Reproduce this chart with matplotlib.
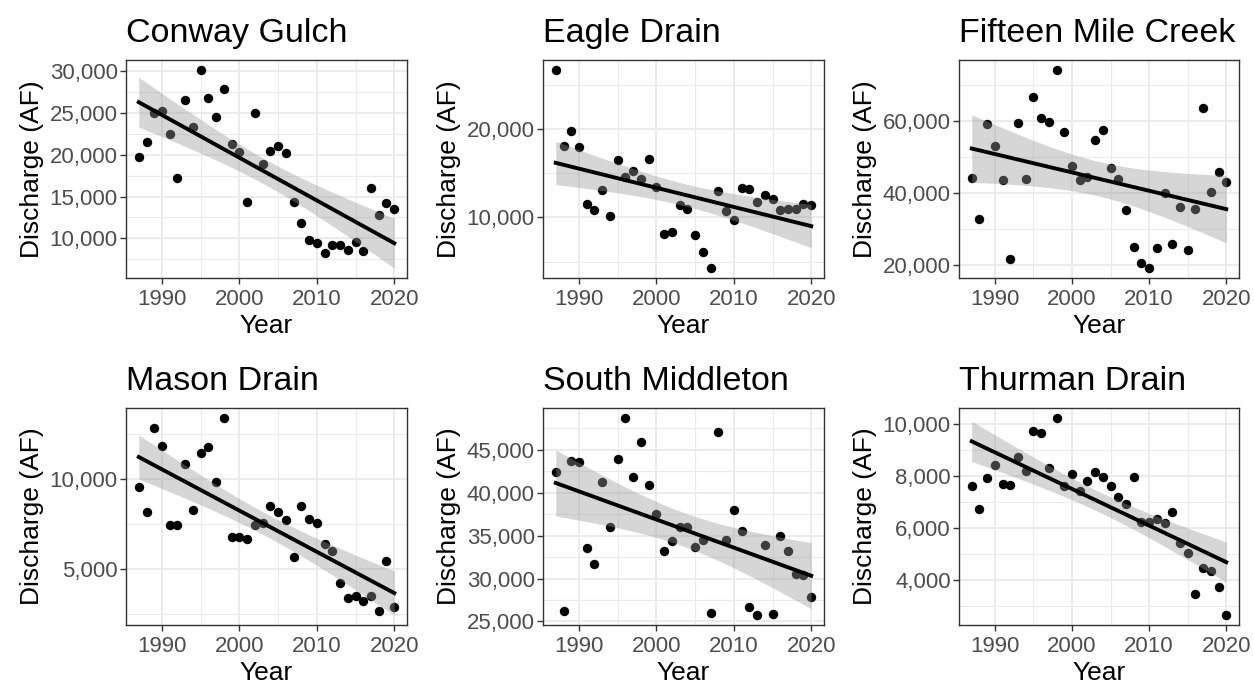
import numpy as np
import matplotlib
matplotlib.use("Agg")
import matplotlib.pyplot as plt
from matplotlib.ticker import FuncFormatter, MultipleLocator

plt.rcParams['font.family'] = ['Liberation Sans', 'DejaVu Sans']

years = list(range(1987, 2021))

conway_gulch = [19760, 21550, 25000, 25200, 22540, 17180, 26500, 23330, 30160, 26830,
                24520, 27820, 21270, 20360, 14370, 25040, 18890, 20480, 21070, 20240,
                14290, 11830, 9760, 9440, 8250, 9170, 9170, 8570, 9560, 8450,
                16070, 12740, 14210, 13490]
eagle_drain = [26700, 18090, 19740, 18010, 11500, 10820, 13150, 10220, 16550, 14570,
               15240, 14380, 16590, 13480, 8160, 8310, 11420, 10940, 7980, 6140,
               4270, 13030, 10710, 9700, 13330, 13220, 11760, 12580, 12130, 10820,
               10940, 10940, 11540, 11390]
fifteen_mile = [44040, 32660, 59170, 52840, 43580, 21650, 59360, 43850, 66610, 60640,
                59720, 74040, 56790, 47520, 43490, 44400, 54680, 57430, 46880, 43760,
                35230, 24950, 20640, 19170, 24770, 40000, 25780, 36060, 24310, 35500,
                63580, 40180, 45870, 42940]
mason_drain = [9560, 8170, 12840, 11870, 7450, 7450, 10840, 8280, 11450, 11780,
               9850, 13410, 6780, 6780, 6700, 7470, 7550, 8520, 8170, 7750,
               5680, 8500, 7770, 7580, 6410, 6010, 4250, 3390, 3530, 3260,
               3520, 2710, 5490, 2930]
south_middleton = [42380, 26230, 43690, 43540, 33540, 31650, 41230, 36040, 43880, 48730,
                   41810, 45880, 40880, 37540, 33230, 34350, 35960, 35960, 33730, 34460,
                   26000, 47120, 34460, 37960, 35500, 26730, 25730, 33850, 25810, 35000,
                   33230, 30580, 30380, 27810]
thurman_drain = [7620, 6710, 7920, 8420, 7680, 7650, 8710, 8190, 9710, 9650,
                 8290, 10220, 7590, 8060, 7410, 7810, 8140, 7950, 7590, 7190,
                 6900, 7940, 6220, 6240, 6330, 6190, 6620, 5410, 5040, 3480,
                 4440, 4340, 3720, 2650]

titles = ["Conway Gulch", "Eagle Drain", "Fifteen Mile Creek",
          "Mason Drain", "South Middleton", "Thurman Drain"]
series = [conway_gulch, eagle_drain, fifteen_mile,
          mason_drain, south_middleton, thurman_drain]
# major / minor y tick steps per panel
y_steps = [(5000, 2500), (10000, 5000), (20000, 10000),
           (5000, 2500), (5000, 2500), (2000, 1000)]

W, H = 1254, 685
fig = plt.figure(figsize=(W / 100, H / 100), dpi=100)

col_px = [(126, 407), (543, 824), (959, 1239)]
row_px = [(60, 278), (408, 625)]

T_CRIT = 2.0369  # t(0.975, df=32)


def lm_fit(x, y):
    x = np.asarray(x, float)
    y = np.asarray(y, float)
    n = len(x)
    b, a = np.polyfit(x, y, 1)
    resid = y - (a + b * x)
    s = np.sqrt(np.sum(resid ** 2) / (n - 2))
    xs = np.linspace(x.min(), x.max(), 80)
    fit = a + b * xs
    se = s * np.sqrt(1 / n + (xs - x.mean()) ** 2 / np.sum((x - x.mean()) ** 2))
    return xs, fit, fit - T_CRIT * se, fit + T_CRIT * se


comma = FuncFormatter(lambda v, p: f"{int(round(v)):,}")

for i, (title, vals) in enumerate(zip(titles, series)):
    r, c = divmod(i, 3)
    (x0, x1), (y0, y1) = col_px[c], row_px[r]
    ax = fig.add_axes([x0 / W, 1 - y1 / H, (x1 - x0) / W, (y1 - y0) / H])

    xs, fit, lo, hi = lm_fit(years, vals)

    ax.scatter(years, vals, s=46, color='black', linewidths=0, zorder=3)
    ax.fill_between(xs, lo, hi, color='#999999', alpha=0.4, linewidth=0, zorder=4)
    ax.plot(xs, fit, color='black', lw=2.8, zorder=5)

    # ggplot-like 5% expansion
    ymin = min(min(vals), lo.min())
    ymax = max(max(vals), hi.max())
    pad = (ymax - ymin) * 0.05
    ax.set_ylim(ymin - pad, ymax + pad)
    ax.set_xlim(1987 - 33 * 0.05, 2020 + 33 * 0.05)

    major, minor = y_steps[i]
    ax.yaxis.set_major_locator(MultipleLocator(major))
    ax.yaxis.set_minor_locator(MultipleLocator(minor))
    ax.xaxis.set_major_locator(MultipleLocator(10))
    ax.xaxis.set_minor_locator(MultipleLocator(5))
    ax.yaxis.set_major_formatter(comma)

    ax.grid(True, which='major', color='#EBEBEB', lw=1.4, zorder=0)
    ax.grid(True, which='minor', color='#EBEBEB', lw=0.8, zorder=0)
    ax.set_axisbelow(True)
    for sp in ax.spines.values():
        sp.set_color('#333333')
        sp.set_linewidth(1.0)
    ax.tick_params(which='major', length=4, width=1.0, color='#333333',
                   labelsize=16, labelcolor='#4D4D4D', pad=2)
    ax.tick_params(axis='x', which='major', pad=4)
    ax.tick_params(which='minor', length=0)

    ax.set_xlabel("Year", fontsize=19, labelpad=3)
    ax.set_ylabel("Discharge (AF)", fontsize=19, labelpad=4)
    ax.set_title(title, fontsize=24.5, loc='left', pad=13)

fig.savefig("out.png", dpi=100)
